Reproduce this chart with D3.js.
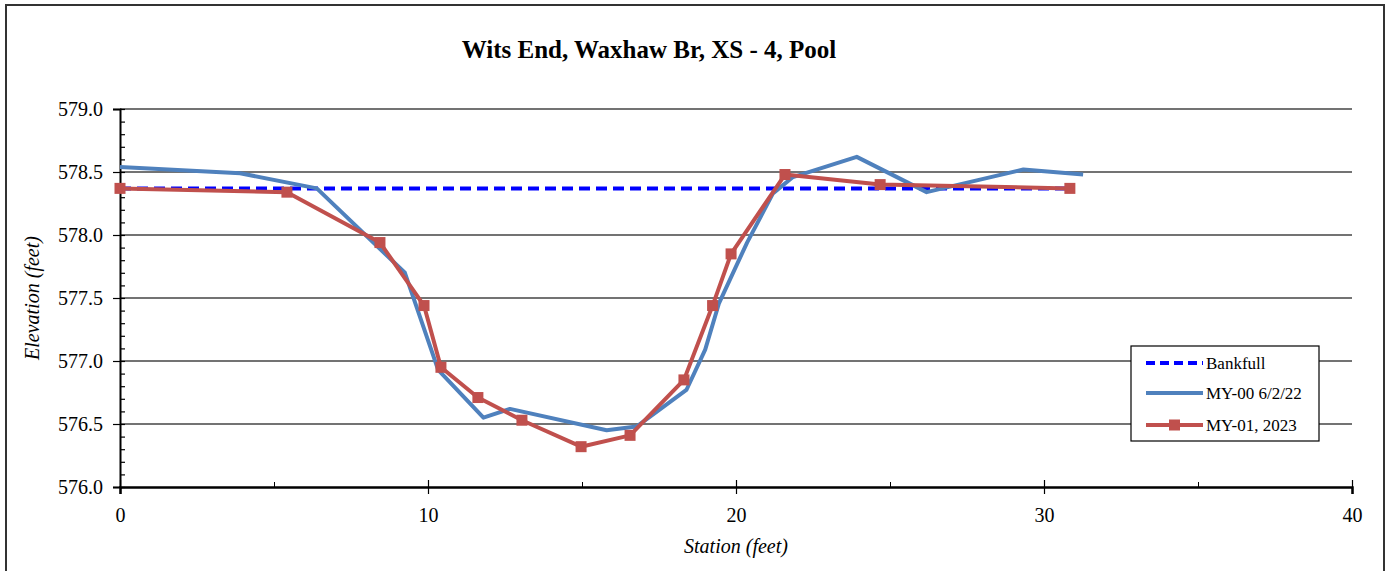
<!DOCTYPE html>
<html>
<head>
<meta charset="utf-8">
<script src="https://cdn.jsdelivr.net/npm/d3@7"></script>
<style>
  body { margin: 0; background: #fff; }
  svg { display: block; font-family: "Liberation Serif", "Times New Roman", serif; }
</style>
</head>
<body>
<div id="chart"></div>
<script>
// Données
const bankfullStation = [0, 30.84]
const bankfullElev = [578.37, 578.37]

const my00Station = [0, 3.9, 6.39, 9.25, 10.33, 11.8, 12.66, 15.8, 16.77, 18.39, 19.0, 19.45, 20.36, 21.2, 21.85, 23.92, 26.19, 29.33, 31.27]
const my00Elev = [578.54, 578.49, 578.37, 577.70, 576.93, 576.55, 576.62, 576.45, 576.48, 576.77, 577.09, 577.46, 577.94, 578.33, 578.46, 578.62, 578.34, 578.52, 578.48]

const my01Station = [0, 5.42, 8.44, 9.87, 10.42, 11.62, 13.05, 14.97, 16.56, 18.31, 19.24, 19.84, 21.59, 24.68, 30.84]
const my01Elev = [578.37, 578.34, 577.94, 577.44, 576.95, 576.71, 576.53, 576.32, 576.41, 576.85, 577.44, 577.85, 578.48, 578.40, 578.37]

const xTicks = [0, 10, 20, 30, 40]
const xMinorTicks = [5, 15, 25, 35]
const yTicks = [576.0, 576.5, 577.0, 577.5, 578.0, 578.5, 579.0]

const seriesNames = ["Bankfull", "MY-00 6/2/22", "MY-01, 2023"]

/* ------------------------------------------------------------------------------
    GRAPH
------------------------------------------------------------------------------ */
const W = 1386, H = 571
const margin = { top: 109, right: 34, bottom: 84, left: 120 }
const width = W - margin.left - margin.right,
    height = H - margin.top - margin.bottom

const svg = d3.select("#chart").append("svg")
    .attr("width", W)
    .attr("height", H)

// Cadre extérieur
svg.append("rect")
    .attr("x", 6).attr("y", 5)
    .attr("width", 1378).attr("height", 580)
    .attr("fill", "none")
    .attr("stroke", "#333")
    .attr("stroke-width", 2)

const g = svg.append("g")
    .attr("transform", "translate(" + margin.left + "," + margin.top + ")")

const x = d3.scaleLinear().domain([0, 40]).range([0, width])
const y = d3.scaleLinear().domain([576, 579]).range([height, 0])

// Lignes horizontales
g.append("g")
    .selectAll("line")
    .data(yTicks.slice(1))
    .join("line")
    .attr("x1", 0).attr("x2", width)
    .attr("y1", d => y(d)).attr("y2", d => y(d))
    .attr("stroke", "#444")
    .attr("stroke-width", 1.5)

/* ------------------------------------------------------------------------------
    AXES
------------------------------------------------------------------------------ */
const yMinor = d3.range(5760, 5791).map(d => d / 10)

// Axe Y : petites graduations vers l'intérieur
g.append("g")
    .call(d3.axisLeft(y).tickValues(yMinor).tickSize(-5).tickFormat(""))
    .call(a => a.select(".domain").remove())
    .selectAll("line").attr("stroke", "#000").attr("stroke-width", 1.2)

// Axe Y : graduations principales
g.append("g")
    .call(d3.axisLeft(y).tickValues(yTicks).tickSize(7).tickPadding(10).tickFormat(d3.format(".1f")))
    .call(a => a.select(".domain").attr("stroke", "#000").attr("stroke-width", 2))
    .call(a => a.selectAll("line").attr("stroke", "#000").attr("stroke-width", 1.2))
    .call(a => a.selectAll("text").attr("font-size", 20).attr("font-family", "Liberation Serif").attr("fill", "#000"))

// Axe X : petites graduations
g.append("g")
    .attr("transform", "translate(0," + height + ")")
    .call(d3.axisBottom(x).tickValues(xMinorTicks).tickSize(-5).tickFormat(""))
    .call(a => a.select(".domain").remove())
    .selectAll("line").attr("stroke", "#000").attr("stroke-width", 1)

// Axe X : graduations principales
g.append("g")
    .attr("transform", "translate(0," + height + ")")
    .call(d3.axisBottom(x).tickValues(xTicks).tickSize(7).tickPadding(14).tickFormat(d3.format("d")))
    .call(a => a.select(".domain").attr("stroke", "#000").attr("stroke-width", 2.5))
    .call(a => a.selectAll("line").attr("y1", -7).attr("stroke", "#000").attr("stroke-width", 1.2))
    .call(a => a.selectAll("text").attr("font-size", 20).attr("font-family", "Liberation Serif").attr("fill", "#000"))

/* ------------------------------------------------------------------------------
    SÉRIES
------------------------------------------------------------------------------ */
const line = d3.line().x(d => x(d[0])).y(d => y(d[1]))

g.append("path")
    .datum(d3.zip(bankfullStation, bankfullElev))
    .attr("d", line)
    .attr("fill", "none")
    .attr("stroke", "#0000FF")
    .attr("stroke-width", 4)
    .attr("stroke-dasharray", "11,6")

g.append("path")
    .datum(d3.zip(my00Station, my00Elev))
    .attr("d", line)
    .attr("fill", "none")
    .attr("stroke", "#4F81BD")
    .attr("stroke-width", 4)
    .attr("stroke-linejoin", "round")

g.append("path")
    .datum(d3.zip(my01Station, my01Elev))
    .attr("d", line)
    .attr("fill", "none")
    .attr("stroke", "#C0504D")
    .attr("stroke-width", 4)
    .attr("stroke-linejoin", "round")

g.selectAll(".marker")
    .data(d3.zip(my01Station, my01Elev))
    .join("rect")
    .attr("class", "marker")
    .attr("x", d => x(d[0]) - 5.5)
    .attr("y", d => y(d[1]) - 5.5)
    .attr("width", 11).attr("height", 11)
    .attr("fill", "#C0504D")

/* ------------------------------------------------------------------------------
    TEXTES
------------------------------------------------------------------------------ */
svg.append("text")
    .attr("x", 649).attr("y", 58)
    .attr("text-anchor", "middle")
    .attr("font-size", 25)
    .attr("font-weight", "bold")
    .text("Wits End, Waxhaw Br, XS - 4, Pool")

svg.append("text")
    .attr("transform", "translate(39," + (margin.top + height / 2) + ") rotate(-90)")
    .attr("text-anchor", "middle")
    .attr("font-size", 20)
    .attr("font-style", "italic")
    .text("Elevation (feet)")

svg.append("text")
    .attr("x", margin.left + width / 2)
    .attr("y", 553)
    .attr("text-anchor", "middle")
    .attr("font-size", 20)
    .attr("font-style", "italic")
    .text("Station (feet)")

/* ------------------------------------------------------------------------------
    LÉGENDE
------------------------------------------------------------------------------ */
const legend = svg.append("g").attr("transform", "translate(1131,346)")
legend.append("rect")
    .attr("width", 188).attr("height", 95)
    .attr("fill", "#fff")
    .attr("stroke", "#000")
    .attr("stroke-width", 1.2)

const rowsY = [17, 47, 79]
const styles = [
    { stroke: "#0000FF", dash: "9,5", marker: false },
    { stroke: "#4F81BD", dash: null, marker: false },
    { stroke: "#C0504D", dash: null, marker: true }
]
seriesNames.forEach((name, i) => {
    const row = legend.append("g").attr("transform", "translate(0," + rowsY[i] + ")")
    row.append("line")
        .attr("x1", 15).attr("x2", 72)
        .attr("stroke", styles[i].stroke)
        .attr("stroke-width", 4)
        .attr("stroke-dasharray", styles[i].dash)
    if (styles[i].marker) {
        row.append("rect")
            .attr("x", 38).attr("y", -5.5)
            .attr("width", 11).attr("height", 11)
            .attr("fill", "#C0504D")
    }
    row.append("text")
        .attr("x", 75).attr("y", 5.5)
        .attr("font-size", 17)
        .text(name)
})
</script>
</body>
</html>
